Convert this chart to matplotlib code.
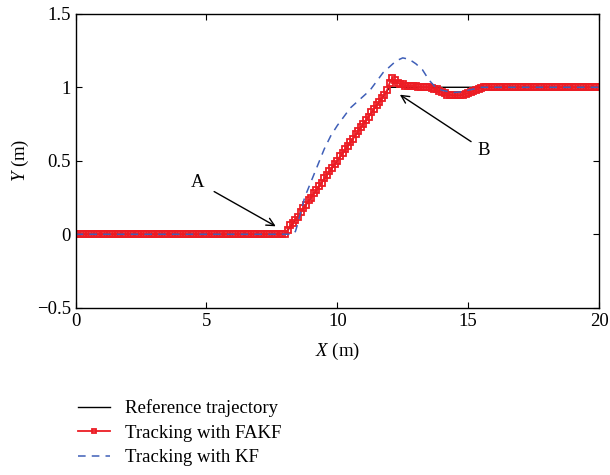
import matplotlib.pyplot as plt

plt.rcParams["font.family"] = "Liberation Serif"
plt.rcParams["mathtext.fontset"] = "custom"
plt.rcParams["mathtext.it"] = "Liberation Serif:italic"
plt.rcParams["mathtext.rm"] = "Liberation Serif"

# Reference trajectory
ref_x = [0, 8, 12, 20]
ref_y = [0, 0, 1, 1]

# FAKF estimate, sampled every 0.1 m from 0 to 20 m
fakf_x = [round(i * 0.1, 1) for i in range(201)]
fakf_y = [
    0.0, 0.0, 0.0, 0.0, 0.0, 0.0, 0.0, 0.0, 0.0, 0.0,          # 0.0 - 0.9
    0.0, 0.0, 0.0, 0.0, 0.0, 0.0, 0.0, 0.0, 0.0, 0.0,          # 1.0 - 1.9
    0.0, 0.0, 0.0, 0.0, 0.0, 0.0, 0.0, 0.0, 0.0, 0.0,          # 2.0 - 2.9
    0.0, 0.0, 0.0, 0.0, 0.0, 0.0, 0.0, 0.0, 0.0, 0.0,          # 3.0 - 3.9
    0.0, 0.0, 0.0, 0.0, 0.0, 0.0, 0.0, 0.0, 0.0, 0.0,          # 4.0 - 4.9
    0.0, 0.0, 0.0, 0.0, 0.0, 0.0, 0.0, 0.0, 0.0, 0.0,          # 5.0 - 5.9
    0.0, 0.0, 0.0, 0.0, 0.0, 0.0, 0.0, 0.0, 0.0, 0.0,          # 6.0 - 6.9
    0.0, 0.0, 0.0, 0.0, 0.0, 0.0, 0.0, 0.0, 0.0, 0.0,          # 7.0 - 7.9
    0.0, 0.03, 0.06, 0.08, 0.1, 0.12, 0.15, 0.18, 0.2, 0.23,   # 8.0 - 8.9
    0.25, 0.28, 0.3, 0.33, 0.35, 0.38, 0.4, 0.43, 0.45, 0.48,  # 9.0 - 9.9
    0.5, 0.53, 0.55, 0.58, 0.6, 0.63, 0.65, 0.68, 0.7, 0.73,   # 10.0 - 10.9
    0.75, 0.78, 0.8, 0.83, 0.85, 0.88, 0.9, 0.93, 0.95, 0.98,  # 11.0 - 11.9
    1.03, 1.06, 1.05, 1.03, 1.02, 1.02, 1.01, 1.01, 1.01, 1.01,  # 12.0 - 12.9
    1.01, 1.0, 1.0, 1.0, 1.0, 1.0, 0.995, 0.99, 0.985, 0.975,  # 13.0 - 13.9
    0.965, 0.96, 0.95, 0.95, 0.945, 0.945, 0.945, 0.945, 0.95, 0.955,  # 14.0 - 14.9
    0.96, 0.965, 0.975, 0.98, 0.99, 0.995, 1.0, 1.005, 1.005, 1.0,  # 15.0 - 15.9
    1.0, 1.0, 1.0, 1.0, 1.0, 1.0, 1.0, 1.0, 1.0, 1.0,          # 16.0 - 16.9
    1.0, 1.0, 1.0, 1.0, 1.0, 1.0, 1.0, 1.0, 1.0, 1.0,          # 17.0 - 17.9
    1.0, 1.0, 1.0, 1.0, 1.0, 1.0, 1.0, 1.0, 1.0, 1.0,          # 18.0 - 18.9
    1.0, 1.0, 1.0, 1.0, 1.0, 1.0, 1.0, 1.0, 1.0, 1.0,          # 19.0 - 19.9
    1.0,                                                       # 20.0
]

# plain Kalman filter estimate
kf_x = [0, 8.3, 8.4, 8.5, 8.75, 9.0, 9.25, 9.5, 9.75, 10.0, 10.25, 10.5,
        10.75, 11.0, 11.25, 11.5, 11.75, 12.0, 12.25, 12.5, 12.75, 13.0,
        13.25, 13.5, 13.75, 14.0, 14.25, 14.5, 14.75, 15.0, 15.25, 15.5, 20]
kf_y = [0, 0, 0.02, 0.08, 0.25, 0.36, 0.47, 0.58, 0.67, 0.74, 0.8, 0.86,
        0.9, 0.94, 0.98, 1.04, 1.1, 1.14, 1.18, 1.2, 1.19, 1.16,
        1.12, 1.05, 1.0, 0.98, 0.97, 0.965, 0.97, 0.98, 0.99, 1.0, 1.0]

fig = plt.figure(figsize=(6.1, 4.75), dpi=100)
ax = fig.add_axes([0.124, 0.352, 0.858, 0.619])

ax.plot(ref_x, ref_y, color="black", lw=1.0, label="Reference trajectory")
ax.plot(fakf_x, fakf_y, color="#ec1c24", lw=1.3, marker="s", ms=5,
        mfc="none", mec="#ec1c24", mew=1.3, label="Tracking with FAKF")
ax.plot(kf_x, kf_y, color="#3f5fb8", lw=1.1, ls=(0, (5, 4)),
        label="Tracking with KF")

ax.set_xlim(0, 20)
ax.set_ylim(-0.5, 1.5)
ax.set_xticks([0, 5, 10, 15, 20])
ax.set_yticks([-0.5, 0, 0.5, 1, 1.5])
ax.set_yticklabels(["\u22120.5", "0", "0.5", "1", "1.5"])
ax.tick_params(direction="in", top=True, right=True, labelsize=13.5, length=4)
for s in ax.spines.values():
    s.set_linewidth(1.0)

ax.set_xlabel(r"$\it{X}$ (m)", fontsize=13.5, labelpad=8)
ax.set_ylabel(r"$\it{Y}$ (m)", fontsize=13.5, labelpad=4)

arrow = dict(arrowstyle="->", color="black", lw=1.0, mutation_scale=14)
ax.annotate("", xy=(7.74, 0.045), xytext=(5.2, 0.3), arrowprops=arrow)
ax.text(4.64, 0.35, "A", fontsize=13.5, ha="center", va="center")
ax.annotate("", xy=(12.3, 0.96), xytext=(15.2, 0.62), arrowprops=arrow)
ax.text(15.6, 0.57, "B", fontsize=13.5, ha="center", va="center")

fig.legend(loc="upper left", bbox_to_anchor=(0.115, 0.175), frameon=False,
           fontsize=13.5, handlelength=1.75, handletextpad=0.8, labelspacing=0.4,
           borderaxespad=0, markerscale=0.5)

fig.savefig("out.png", dpi=100)
